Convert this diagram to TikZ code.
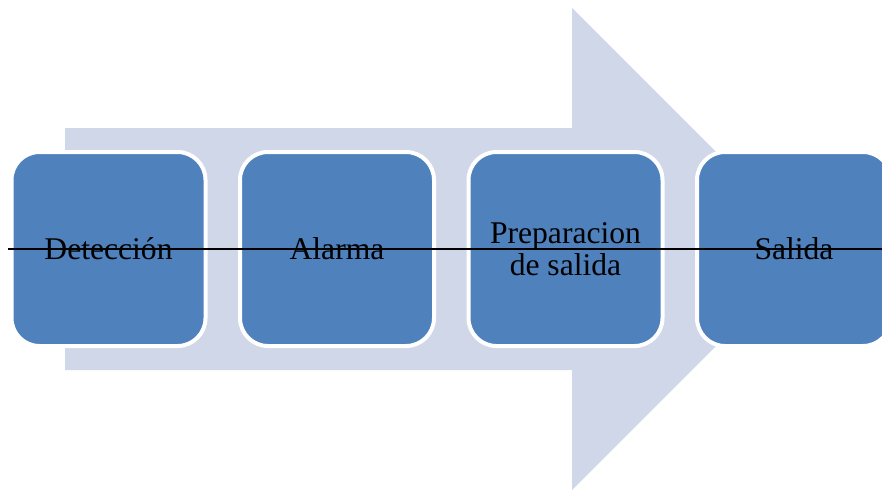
\documentclass[tikz,border=0pt]{standalone}
\usepackage{fontspec}
\setmainfont{Liberation Serif}
\usetikzlibrary{positioning}
\definecolor{stepblue}{RGB}{79,129,189}
\definecolor{arrowgray}{RGB}{208,215,232}

\begin{document}
\begin{tikzpicture}[
    x=1pt,y=-1pt,
    node distance=30.5pt,
    stage/.style={draw=white,line width=4pt,fill=stepblue,rounded corners=28pt,minimum width=194pt,minimum height=194pt,align=center,font=\fontsize{31.6}{32.5}\selectfont},
    strike/.style={black,line width=1.8pt}
]
\useasboundingbox (0,0) rectangle (882,491);
\clip (0,0) rectangle (882,491);
% big background arrow
\fill[arrowgray] (65,128) -- (572,128) -- (572,8) -- (813,249) -- (572,490) -- (572,370) -- (65,370) -- cycle;
% stages
\node[stage] (det) at (108.5,249) {Detecci\'on};
\node[stage,right=of det] (alarm) {Alarma};
\node[stage,right=of alarm] (prep) {Preparacion\\de salida};
\node[stage,right=of prep] (out) {Salida};
% line across
\coordinate (lineL) at (8,249);
\coordinate (lineR) at (882,249);
\draw[strike] (lineL) -- (lineR);
\end{tikzpicture}
\end{document}
